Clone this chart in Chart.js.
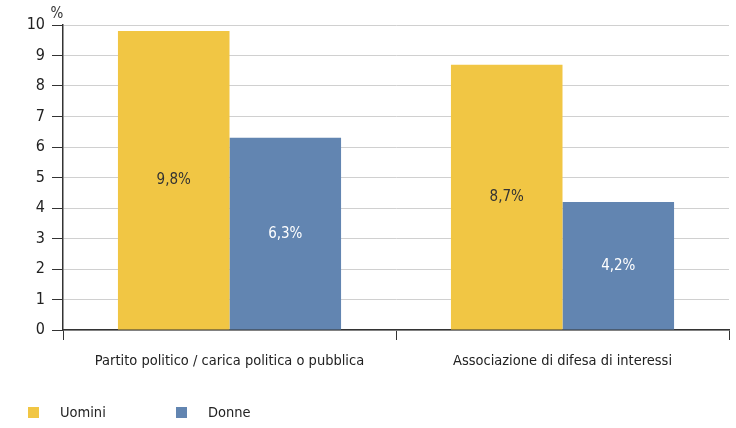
<!DOCTYPE html>
<html>
<head>
<meta charset="utf-8">
<script src="https://cdn.jsdelivr.net/npm/chart.js@4/dist/chart.umd.min.js"></script>
<style>
  html, body { margin: 0; padding: 0; background: #fff; }
  #wrap { position: relative; width: 736px; height: 428px; }
  canvas { position: absolute; left: 0; top: 0; }
  .legend { position: absolute; top: 404px; left: 28px; display: flex; font-family: 'Liberation Sans Narrow', 'DejaVu Sans Condensed', sans-serif; font-size: 14.5px; color: #222; }
  .item { display: flex; align-items: center; }
  .sw { width: 11px; height: 11px; display: inline-block; margin-right: 21px; }
</style>
</head>
<body>
<div id="wrap">
  <canvas id="c" width="736" height="428"></canvas>
  <div class="legend">
    <div class="item" style="width:148px"><span class="sw" style="background:#F1C644"></span>Uomini</div>
    <div class="item"><span class="sw" style="background:#6285B1"></span>Donne</div>
  </div>
</div>
<script>
const categories = ['Partito politico / carica politica o pubblica', 'Associazione di difesa di interessi'];
const uomini = [9.8, 8.7];
const donne = [6.3, 4.2];
const seriesNames = ['Uomini', 'Donne'];
const yTicks = [0, 1, 2, 3, 4, 5, 6, 7, 8, 9, 10];

const FONT = "'Liberation Sans Narrow', 'DejaVu Sans Condensed', sans-serif";
const textColor = ['#333333', '#ffffff'];

const labelPlugin = {
  id: 'barLabels',
  afterDatasetsDraw(chart) {
    const ctx = chart.ctx;
    ctx.save();
    ctx.font = '15px ' + FONT;
    ctx.textAlign = 'center';
    ctx.textBaseline = 'middle';
    chart.data.datasets.forEach((ds, i) => {
      const meta = chart.getDatasetMeta(i);
      meta.data.forEach((bar, j) => {
        const v = ds.data[j];
        ctx.fillStyle = textColor[i];
        ctx.fillText(v.toFixed(1).replace('.', ',') + '%', bar.x, (bar.y + bar.base) / 2);
      });
    });
    ctx.restore();
  }
};

const unitPlugin = {
  id: 'unit',
  afterDraw(chart) {
    const ctx = chart.ctx;
    const a = chart.chartArea;
    ctx.save();
    ctx.font = '15px ' + FONT;
    ctx.fillStyle = '#333';
    ctx.textAlign = 'center';
    ctx.textBaseline = 'bottom';
    ctx.fillText('%', a.left - 6, a.top - 3);
    ctx.restore();
  }
};

new Chart(document.getElementById('c'), {
  type: 'bar',
  data: {
    labels: categories,
    datasets: [
      { label: seriesNames[0], data: uomini, backgroundColor: '#F1C644', categoryPercentage: 0.67, barPercentage: 1.0 },
      { label: seriesNames[1], data: donne, backgroundColor: '#6285B1', categoryPercentage: 0.67, barPercentage: 1.0 }
    ]
  },
  options: {
    responsive: false,
    animation: false,
    devicePixelRatio: 1,
    layout: { padding: { top: 25, right: 7, left: 0, bottom: 0 } },
    plugins: { legend: { display: false }, tooltip: { enabled: false } },
    scales: {
      x: {
        grid: { offset: true, drawOnChartArea: false, tickLength: 10, tickColor: '#333', lineWidth: 1 },
        border: { color: '#333', width: 1.5 },
        ticks: { color: '#222', font: { family: FONT, size: 14.5 }, padding: 13, maxRotation: 0 },
        afterFit(s) { s.height = 98; }
      },
      y: {
        min: 0, max: 10,
        afterBuildTicks(s) { s.ticks = yTicks.map(v => ({ value: v })); },
        grid: { color: '#d0d0d0', tickColor: '#333', tickLength: 11, lineWidth: 1 },
        border: { color: '#333', width: 1.5 },
        ticks: { color: '#222', font: { family: FONT, size: 16 }, padding: 7 },
        afterFit(s) { s.width = 63; }
      }
    }
  },
  plugins: [labelPlugin, unitPlugin]
});
</script>
</body>
</html>
